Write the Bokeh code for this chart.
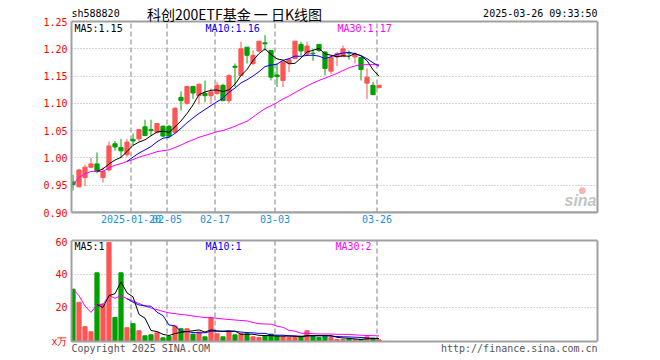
import numpy as np
import pandas as pd
from bokeh.plotting import figure
from bokeh.layouts import column
from bokeh.models import (Range1d, FixedTicker, Label, ColumnDataSource, PrintfTickFormatter,
                          LinearAxis, Span)
from bokeh.embed import file_html
from bokeh.resources import INLINE

# ---------------- data ----------------
dates = [
    "2025-01-06", "2025-01-07", "2025-01-08", "2025-01-09", "2025-01-10", "2025-01-13",
    "2025-01-14", "2025-01-15", "2025-01-16", "2025-01-17", "2025-01-20", "2025-01-21",
    "2025-01-22", "2025-01-23", "2025-01-24", "2025-01-27", "2025-02-05", "2025-02-06",
    "2025-02-07", "2025-02-10", "2025-02-11", "2025-02-12", "2025-02-13", "2025-02-14",
    "2025-02-17", "2025-02-18", "2025-02-19", "2025-02-20", "2025-02-21", "2025-02-24",
    "2025-02-25", "2025-02-26", "2025-02-27", "2025-02-28", "2025-03-03", "2025-03-04",
    "2025-03-05", "2025-03-06", "2025-03-07", "2025-03-10", "2025-03-11", "2025-03-12",
    "2025-03-13", "2025-03-14", "2025-03-17", "2025-03-18", "2025-03-19", "2025-03-20",
    "2025-03-21", "2025-03-24", "2025-03-25", "2025-03-26",
]
opens = [0.956, 0.947, 0.964, 0.983, 0.989, 0.964, 0.978, 1.026, 1.019, 1.006,
         1.034, 1.035, 1.057, 1.052, 1.047, 1.058, 1.058, 1.047, 1.111, 1.100,
         1.131, 1.114, 1.118, 1.114, 1.118, 1.133, 1.105, 1.168, 1.151, 1.203,
         1.173, 1.196, 1.211, 1.197, 1.152, 1.142, 1.174, 1.182, 1.208, 1.190,
         1.192, 1.208, 1.194, 1.159, 1.185, 1.186, 1.193, 1.185, 1.184, 1.137,
         1.133, 1.129]
highs = [0.969, 0.980, 0.988, 1.000, 1.010, 0.983, 1.030, 1.031, 1.035, 1.035,
         1.045, 1.053, 1.070, 1.070, 1.064, 1.060, 1.060, 1.093, 1.122, 1.132,
         1.132, 1.136, 1.142, 1.127, 1.139, 1.136, 1.154, 1.173, 1.213, 1.203,
         1.197, 1.214, 1.225, 1.197, 1.173, 1.179, 1.182, 1.214, 1.213, 1.213,
         1.200, 1.208, 1.196, 1.184, 1.194, 1.206, 1.197, 1.194, 1.185, 1.164,
         1.139, 1.133]
lows = [0.940, 0.946, 0.948, 0.981, 0.972, 0.955, 0.975, 1.013, 1.000, 1.002,
        1.023, 1.030, 1.040, 1.040, 1.045, 1.038, 1.036, 1.045, 1.087, 1.098,
        1.108, 1.098, 1.102, 1.099, 1.116, 1.104, 1.100, 1.130, 1.151, 1.173,
        1.170, 1.194, 1.197, 1.142, 1.130, 1.130, 1.157, 1.181, 1.188, 1.188,
        1.178, 1.194, 1.151, 1.154, 1.168, 1.186, 1.180, 1.173, 1.142, 1.108,
        1.115, 1.127]
closes = [0.951, 0.978, 0.983, 0.989, 0.975, 0.975, 1.022, 1.020, 1.013, 1.029,
          1.031, 1.052, 1.041, 1.050, 1.063, 1.040, 1.040, 1.091, 1.105, 1.131,
          1.119, 1.135, 1.114, 1.121, 1.133, 1.105, 1.151, 1.166, 1.200, 1.188,
          1.188, 1.214, 1.209, 1.148, 1.149, 1.176, 1.180, 1.214, 1.196, 1.205,
          1.191, 1.197, 1.164, 1.184, 1.191, 1.200, 1.192, 1.190, 1.162, 1.148,
          1.116, 1.133]
volumes = [31.1, 23.3, 8.8, 5.8, 40.8, 22.3, 58.8, 14.3, 40.8, 8.2,
           10.6, 6.4, 3.4, 4.0, 5.2, 2.2, 3.0, 9.2, 7.6, 7.6,
           4.4, 5.6, 2.8, 14.1, 4.6, 2.8, 5.6, 4.0, 4.6, 4.6,
           2.8, 2.4, 3.2, 4.4, 3.2, 2.8, 2.4, 2.8, 2.8, 6.4,
           3.2, 2.4, 3.2, 2.4, 1.2, 1.2, 1.6, 1.2, 1.2, 2.8,
           2.0, 1.0]
tick_dates = ["2025-01-20", "2025-02-05", "2025-02-17", "2025-03-03", "2025-03-26"]
tick_labels = ["2025-01-20", "02-05", "02-17", "03-03", "03-26"]
price_ticks = [0.90, 0.95, 1.00, 1.05, 1.10, 1.15, 1.20, 1.25]
vol_ticks = [0, 20, 40, 60]
vol_tick_labels = ["x万", "20", "40", "60"]
ma_price_texts = ["MA5:1.15", "MA10:1.16", "MA30:1.17"]
ma_vol_texts = ["MA5:1", "MA10:1", "MA30:2"]

# ---------------- derived ----------------
df = pd.DataFrame(dict(date=dates, open=opens, high=highs, low=lows, close=closes, vol=volumes))
df["x"] = np.arange(len(df))
up = df["close"] >= df["open"]
RED, GREEN = "#ff5555", "#00a000"
df["color"] = np.where(up, RED, GREEN)
df["top"] = df[["open", "close"]].max(axis=1)
df["bottom"] = df[["open", "close"]].min(axis=1)
df["ma5"] = df["close"].rolling(5).mean()
df["ma10"] = df["close"].rolling(10).mean()
df["ma30"] = df["close"].rolling(30, min_periods=1).mean()
df["vma5"] = df["vol"].rolling(5).mean()
df["vma10"] = df["vol"].rolling(10).mean()
df["vma30"] = df["vol"].rolling(30, min_periods=1).mean()
src = ColumnDataSource(df)

date_index = {d: i for i, d in enumerate(dates)}
vticks = [date_index[d] - 1.0 / 3.0 for d in tick_dates]

FONT = "DejaVu Sans Mono"
GRID = "#aaaaaa"
BORDER = "#a0a0a0"
xr = Range1d(-0.25, -0.25 + 526 / 6.0)

# geometry (canvas px)
F_LEFT = 71
P1_TOP_BOX, P1_BOTTOM = 21, 212          # price box top / bottom
P2_TOP_BOX, P2_BOX_BOTTOM, P2_BOTTOM = 240, 341, 360

p_lo, p_hi = price_ticks[0], price_ticks[-1]
ppu1 = (P1_BOTTOM - P1_TOP_BOX) / (p_hi - p_lo)
y1_range = Range1d(p_lo, p_hi + P1_TOP_BOX / ppu1)

v_lo, v_hi = vol_ticks[0], vol_ticks[-1]
ppu2 = (P2_BOX_BOTTOM - P2_TOP_BOX) / (v_hi - v_lo)
y2_range = Range1d(v_lo - (P2_BOTTOM - P2_BOX_BOTTOM) / ppu2, v_hi + 2 / ppu2)


def lab(p, fb, cx, cy, text, color, size=10, font=FONT, align="left", style="normal"):
    p.add_layout(Label(x=cx - F_LEFT, y=fb - cy, x_units="screen", y_units="screen",
                       text=text, text_color=color, text_font_size=f"{size}px",
                       text_font=font, text_align=align, text_baseline="middle",
                       text_font_style=style))


def base(p, bounds):
    p.outline_line_color = None
    p.background_fill_color = "white"
    p.border_fill_color = "white"
    p.min_border_left = F_LEFT
    p.min_border_right = 63
    p.xgrid.visible = False
    ya = p.yaxis[0]
    ya.bounds = bounds
    ya.axis_line_color = BORDER
    ya.axis_line_width = 2
    ya.major_tick_out = 0
    ya.major_tick_in = 0
    ya.minor_tick_out = 0
    ya.minor_tick_in = 0
    ya.major_label_text_color = "#ff0000"
    ya.major_label_text_font = FONT
    ya.major_label_text_font_size = "10px"
    ya.major_label_standoff = 4
    ra = LinearAxis(ticker=FixedTicker(ticks=[]), bounds=bounds, axis_line_color=BORDER,
                    axis_line_width=2, major_tick_out=0, minor_tick_out=0,
                    major_tick_in=0, minor_tick_in=0)
    p.add_layout(ra, "right")
    p.ygrid.grid_line_color = GRID
    p.ygrid.grid_line_dash = "1 2"
    p.ygrid.grid_line_width = 1
    for loc in bounds:
        p.add_layout(Span(location=loc, dimension="width", line_color=BORDER, line_width=2))
    p.segment(x0=vticks, y0=bounds[0], x1=vticks, y1=bounds[1], line_color=GRID,
              line_dash="5 3", line_width=1.5)


# ---------------- price panel ----------------
p1 = figure(width=660, height=236, output_backend="svg", toolbar_location=None,
            x_range=xr, y_range=y1_range)
p1.min_border_top = 0
p1.min_border_bottom = 24
base(p1, (p_lo, p_hi))
p1.yaxis[0].ticker = FixedTicker(ticks=price_ticks)
p1.yaxis[0].formatter = PrintfTickFormatter(format="%.2f")
p1.ygrid.ticker = FixedTicker(ticks=price_ticks[1:-1])
p1.xaxis.ticker = FixedTicker(ticks=vticks)
p1.xaxis.major_label_overrides = {t: l for t, l in zip(vticks, tick_labels)}
p1.xaxis.axis_line_color = BORDER
p1.xaxis.axis_line_width = 2
p1.xaxis.major_tick_out = 0
p1.xaxis.major_tick_in = 0
p1.xaxis.minor_tick_out = 0
p1.xaxis.minor_tick_in = 0
p1.xaxis.major_label_text_color = "#1a8fe0"
p1.xaxis.major_label_text_font = FONT
p1.xaxis.major_label_text_font_size = "10px"
p1.xaxis.major_label_standoff = 2

p1.segment(x0="x", y0="low", x1="x", y1="high", line_color="color", line_width=1, source=src)
p1.vbar(x="x", width=0.7, top="top", bottom="bottom", fill_color="color",
        line_color="color", line_width=1, source=src)
p1.line("x", "ma30", line_color="#ff00ff", line_width=1, source=src)
p1.line("x", "ma10", line_color="#0000ff", line_width=1, source=src)
p1.line("x", "ma5", line_color="#000000", line_width=1, source=src)

lab(p1, P1_BOTTOM, 71, 13, "sh588820", "#000000")
lab(p1, P1_BOTTOM, 234, 13, "科创200ETF基金 一 日K线图", "#000000", size=14,
    font="Noto Sans CJK SC", align="center")
lab(p1, P1_BOTTOM, 597, 13, "2025-03-26 09:33:50", "#000000", align="right")
lab(p1, P1_BOTTOM, 74, 28, ma_price_texts[0], "#000000")
lab(p1, P1_BOTTOM, 205, 28, ma_price_texts[1], "#0000ff")
lab(p1, P1_BOTTOM, 337, 28, ma_price_texts[2], "#ff00ff")
# sina watermark
lab(p1, P1_BOTTOM, 582, 189, "●", "#f6b4b4", size=9, font="DejaVu Sans", align="center")
lab(p1, P1_BOTTOM, 596, 200, "sina", "#c4c4c4", size=16, font="Liberation Sans",
    align="right", style="bold italic")

# ---------------- volume panel ----------------
p2 = figure(width=660, height=124, output_backend="svg", toolbar_location=None,
            x_range=xr, y_range=y2_range)
p2.min_border_top = 2
p2.min_border_bottom = 0
p2.xaxis.visible = False
base(p2, (v_lo, v_hi))
p2.yaxis[0].ticker = FixedTicker(ticks=vol_ticks)
p2.yaxis[0].major_label_overrides = {t: l for t, l in zip(vol_ticks, vol_tick_labels)}
p2.ygrid.ticker = FixedTicker(ticks=vol_ticks[1:-1])

p2.vbar(x="x", width=0.7, top="vol", bottom=0, fill_color="color",
        line_color="color", line_width=1, source=src)
p2.line("x", "vma30", line_color="#ff00ff", line_width=1, source=src)
p2.line("x", "vma10", line_color="#0000ff", line_width=1, source=src)
p2.line("x", "vma5", line_color="#000000", line_width=1, source=src)

lab(p2, P2_BOTTOM, 74, 246, ma_vol_texts[0], "#000000")
lab(p2, P2_BOTTOM, 205, 246, ma_vol_texts[1], "#0000ff")
lab(p2, P2_BOTTOM, 335, 246, ma_vol_texts[2], "#ff00ff")
lab(p2, P2_BOTTOM, 71, 348, "Copyright 2025 SINA.COM", "#555555")
lab(p2, P2_BOTTOM, 597, 348, "http://finance.sina.com.cn", "#555555", align="right")

layout = column(p1, p2, spacing=0)
open("out.html", "w").write(file_html(layout, INLINE))
